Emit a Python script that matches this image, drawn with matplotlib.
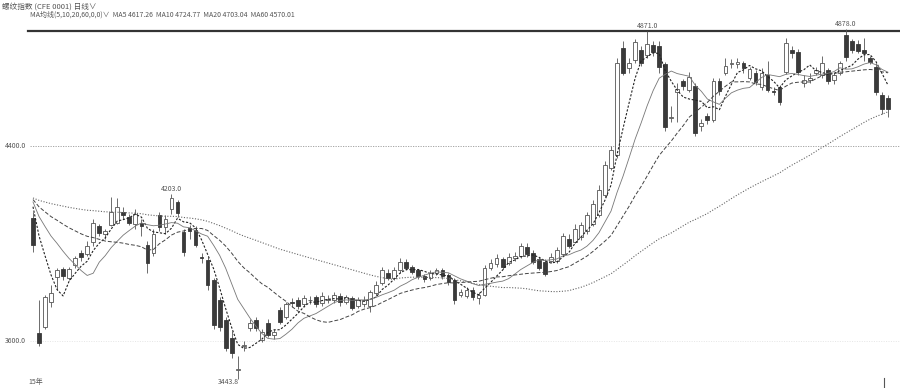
import matplotlib
matplotlib.use('Agg')
import matplotlib.pyplot as plt
import pandas as pd

plt.rcParams['font.family'] = ['Noto Sans CJK SC', 'DejaVu Sans']

title = '螺纹指数 (CFE 0001) 日线∨'
ma_text = 'MA均线(5,10,20,60,0,0)∨  MA5 4617.26  MA10 4724.77  MA20 4703.04  MA60 4570.01'

# свечи: open / close / high / low
opens = [4105, 3633, 3657, 3760, 3862, 3895, 3860, 3912, 3960, 3955, 4005, 4070, 4040, 4075, 4085,
         4130, 4110, 4080, 4085, 3994, 3960, 4117, 4068, 4140, 4170, 4047, 4063, 4055, 3945, 3932,
         3850, 3768, 3686, 3612, 3480, 3580, 3654, 3686, 3604, 3674, 3625, 3727, 3700, 3760, 3768,
         3752, 3768, 3780, 3755, 3770, 3768, 3785, 3760, 3778, 3745, 3752, 3745, 3795, 3838, 3880,
         3860, 3890, 3924, 3902, 3890, 3866, 3858, 3880, 3890, 3870, 3850, 3790, 3785, 3810, 3775,
         3790, 3900, 3915, 3935, 3920, 3940, 3950, 3985, 3960, 3935, 3925, 3930, 3930, 3955, 4020,
         4005, 4025, 4050, 4080, 4115, 4200, 4310, 4365, 4800, 4720, 4753, 4795, 4775, 4814, 4810,
         4735, 4515, 4620, 4665, 4630, 4645, 4480, 4525, 4507, 4665, 4700, 4735, 4735, 4740, 4680,
         4700, 4640, 4690, 4625, 4640, 4703, 4795, 4785, 4660, 4670, 4700, 4690, 4712, 4670, 4700,
         4855, 4830, 4820, 4795, 4760, 4725, 4610, 4597]
closes = [3994, 3592, 3780, 3797, 3890, 3865, 3895, 3940, 3945, 3990, 4085, 4045, 4050, 4130, 4150,
          4115, 4085, 4120, 4072, 3920, 4040, 4068, 4100, 4186, 4125, 3965, 4050, 3994, 3940, 3830,
          3666, 3657, 3571, 3551, 3485, 3585, 3674, 3654, 3637, 3625, 3637, 3678, 3750, 3755, 3745,
          3776, 3770, 3752, 3785, 3772, 3790, 3760, 3780, 3735, 3768, 3770, 3800, 3830, 3890, 3860,
          3892, 3924, 3900, 3885, 3865, 3854, 3880, 3890, 3865, 3842, 3768, 3800, 3810, 3780, 3790,
          3900, 3920, 3940, 3905, 3945, 3950, 3990, 3955, 3925, 3900, 3875, 3945, 3975, 4030, 3990,
          4060, 4075, 4115, 4160, 4220, 4320, 4384, 4740, 4700, 4740, 4827, 4740, 4820, 4785, 4725,
          4478, 4520, 4635, 4645, 4685, 4455, 4495, 4505, 4665, 4625, 4730, 4742, 4745, 4720, 4715,
          4662, 4700, 4630, 4620, 4580, 4823, 4782, 4705, 4672, 4680, 4712, 4740, 4665, 4690, 4740,
          4765, 4795, 4790, 4782, 4745, 4620, 4550, 4550]
highs = [4130, 3768, 3790, 3830, 3900, 3905, 3905, 3950, 3975, 4010, 4100, 4080, 4060, 4190, 4187,
         4150, 4120, 4140, 4100, 4010, 4060, 4130, 4115, 4203, 4180, 4060, 4075, 4070, 3960, 3945,
         3860, 3780, 3700, 3640, 3540, 3600, 3690, 3700, 3650, 3690, 3650, 3740, 3760, 3775, 3780,
         3790, 3785, 3790, 3800, 3790, 3800, 3795, 3790, 3785, 3780, 3785, 3810, 3845, 3905, 3895,
         3905, 3940, 3935, 3910, 3895, 3875, 3890, 3900, 3900, 3880, 3860, 3815, 3820, 3820, 3800,
         3910, 3935, 3955, 3945, 3960, 3965, 4000, 4000, 3975, 3945, 3935, 3960, 3985, 4045, 4040,
         4080, 4090, 4130, 4180, 4240, 4340, 4400, 4760, 4830, 4760, 4840, 4810, 4871, 4830, 4830,
         4745, 4565, 4660, 4675, 4705, 4660, 4510, 4535, 4680, 4680, 4760, 4755, 4760, 4750, 4725,
         4710, 4720, 4750, 4640, 4650, 4842, 4810, 4800, 4690, 4700, 4725, 4770, 4720, 4700, 4750,
         4878, 4840, 4835, 4845, 4770, 4740, 4620, 4610]
lows = [3966, 3580, 3650, 3740, 3810, 3850, 3850, 3900, 3930, 3950, 3990, 4030, 4020, 4070, 4080,
        4100, 4075, 4060, 4030, 3880, 3950, 4050, 4040, 4120, 4110, 3950, 4020, 3985, 3920, 3810,
        3650, 3640, 3560, 3530, 3443.8, 3560, 3640, 3640, 3595, 3615, 3610, 3670, 3690, 3740, 3730,
        3740, 3750, 3740, 3745, 3755, 3755, 3745, 3750, 3725, 3735, 3740, 3720, 3785, 3830, 3850,
        3850, 3880, 3890, 3875, 3855, 3840, 3850, 3870, 3855, 3830, 3750, 3780, 3775, 3770, 3750,
        3785, 3890, 3905, 3895, 3910, 3930, 3940, 3945, 3915, 3890, 3865, 3920, 3920, 3950, 3980,
        4000, 4015, 4040, 4070, 4110, 4190, 4300, 4350, 4690, 4700, 4740, 4730, 4760, 4770, 4700,
        4460, 4500, 4500, 4630, 4620, 4440, 4460, 4490, 4500, 4610, 4690, 4720, 4720, 4700, 4670,
        4650, 4630, 4620, 4610, 4570, 4695, 4760, 4690, 4640, 4660, 4690, 4680, 4655, 4655, 4690,
        4750, 4780, 4780, 4750, 4735, 4610, 4530, 4520]

# уровень цены до начала окна (по началу линий MA)
prev_close = 4190

ma_periods = [5, 10, 20, 60]
mark_labels = {23: ('4203.0', 'top'), 102: ('4871.0', 'top'), 135: ('4878.0', 'top'), 34: ('3443.8', 'bottom')}
axis_labels = [4400, 3600]

df = pd.DataFrame({'open': opens, 'close': closes, 'high': highs, 'low': lows})
n = len(df)
x = list(range(n))

fig = plt.figure(figsize=(9, 3.88), dpi=100)
ax = fig.add_axes([0, 0, 1, 1])
ax.axis('off')

step = (888 - 33) / (n - 1)
ax.set_xlim(-33 / step, (900 - 33) / step)
ax.set_ylim(3407, 4999)

# сетка
ax.axhline(4400, xmin=30 / 900, color='#999999', lw=0.6, ls=(0, (1.5, 1.5)))
ax.axhline(3600, xmin=30 / 900, color='#dddddd', lw=0.5, ls=(0, (1.5, 2)))
ax.axhline(4873, xmin=28 / 900, color='#333333', lw=1.6)

# свечи
up = df['close'] >= df['open']
ax.vlines(x, df['low'], df['high'], color='#555555', lw=0.6, zorder=2)
ax.bar([i for i in x if up[i]], (df['close'] - df['open'])[up], bottom=df['open'][up],
       width=0.62, facecolor='white', edgecolor='#555555', lw=0.6, zorder=3)
ax.bar([i for i in x if not up[i]], (df['open'] - df['close'])[~up], bottom=df['close'][~up],
       width=0.62, facecolor='#3a3a3a', edgecolor='#3a3a3a', lw=0.6, zorder=3)

# скользящие средние
full_close = pd.Series([prev_close] * 59 + closes)
styles = {5: ('#222222', (0, (2, 1.5)), 0.8),
          10: ('#777777', '-', 0.6),
          20: ('#444444', (0, (4, 2)), 0.7),
          60: ('#666666', (0, (1, 1.5)), 0.8)}
for p in ma_periods:
    ma = full_close.rolling(p).mean().iloc[-n:].values
    c, ls, lw = styles[p]
    ax.plot(x, ma, color=c, ls=ls, lw=lw, zorder=4)

# подписи экстремумов
for i, (txt, pos) in mark_labels.items():
    if pos == 'top':
        ax.text(i, highs[i] + 22, txt, ha='center', va='center', fontsize=5, color='#555555')
    else:
        ax.text(i + 0.2, 3432, txt, ha='right', va='center', fontsize=5, color='#555555')

for v in axis_labels:
    ax.text(-4.6, v, f'{v:.1f}', ha='left', va='center', fontsize=5, color='#555555')

ax.text(2 / 900, 1 - 7 / 388, title, transform=ax.transAxes, ha='left', va='center',
        fontsize=5.5, color='#555555')
ax.text(30 / 900, 1 - 15 / 388, ma_text, transform=ax.transAxes, ha='left', va='center',
        fontsize=5, color='#555555')
ax.text(28 / 900, 6 / 388, '15年', transform=ax.transAxes, ha='left', va='center',
        fontsize=5, color='#555555')
ax.plot([884 / 900, 884 / 900], [0, 10 / 388], transform=ax.transAxes, color='#555555', lw=0.8)

fig.savefig('out.png', dpi=100, facecolor='white')
